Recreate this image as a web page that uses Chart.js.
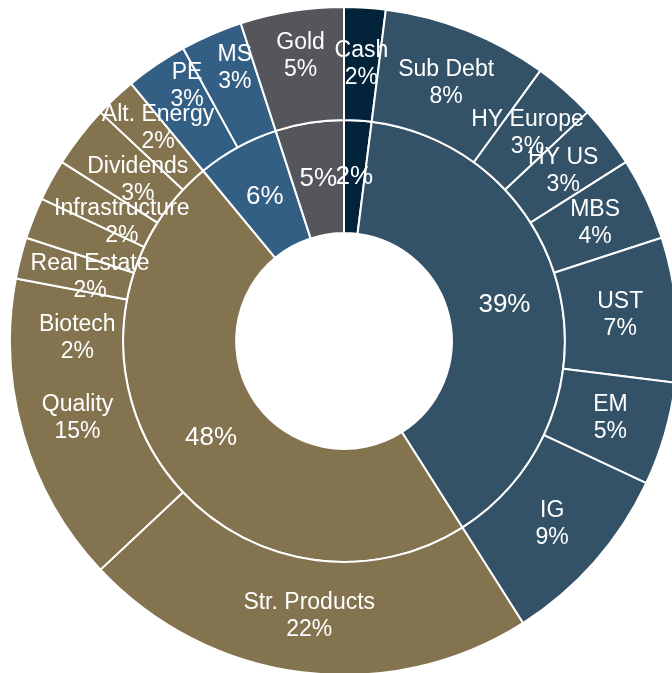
<!DOCTYPE html>
<html><head><meta charset="utf-8">
<script src="https://cdn.jsdelivr.net/npm/chart.js@4.4.0/dist/chart.umd.min.js"></script>
<style>
html,body{margin:0;padding:0;background:#fff;overflow:hidden;width:672px;height:673px;}
#wrap{position:absolute;left:9px;top:6px;width:670px;height:670px;}
</style></head><body>
<div id="wrap"><canvas id="c"></canvas></div>
<script>
// Inner ring (asset classes)
const groupLabels = ['Cash','Fixed Income','Equities','Alternatives','Gold'];
const groupValues = [2, 39, 48, 6, 5];
const groupColors = ['#02233A','#335268','#83744F','#345F84','#54565C'];

// Outer ring (sub-allocations)
const subLabels = ['Cash','Sub Debt','HY Europe','HY US','MBS','UST','EM','IG',
  'Str. Products','Quality','Biotech','Real Estate','Infrastructure','Dividends','Alt. Energy',
  'PE','MS','Gold'];
const subValues = [2, 8, 3, 3, 4, 7, 5, 9, 22, 15, 2, 2, 2, 3, 2, 3, 3, 5];
const subGroup  = [0, 1, 1, 1, 1, 1, 1, 1, 2, 2, 2, 2, 2, 2, 2, 3, 3, 4];

const FONT = '"Liberation Sans", Arial, Helvetica, sans-serif';

// label placement nudges (text only, pixels) for crowded outer labels
const labelNudge = {
  'Gold': [0, -11], 'MS': [1, -18], 'PE': [-1, -25], 'Alt. Energy': [4, -11],
  'Dividends': [13, 9], 'Infrastructure': [21, 15], 'Real Estate': [4, 38], 'Biotech': [2, 66]
};

const arcLabels = {
  id: 'arcLabels',
  afterDatasetsDraw(chart) {
    const ctx = chart.ctx;
    ctx.save();
    ctx.fillStyle = '#ffffff';
    ctx.textAlign = 'center';
    ctx.textBaseline = 'middle';
    chart.data.datasets.forEach((ds, di) => {
      const meta = chart.getDatasetMeta(di);
      meta.data.forEach((arc, i) => {
        const p = arc.tooltipPosition();
        const pct = ds.data[i] + '%';
        if (ds.ringLabels) {
          const name = ds.ringLabels[i];
          const n = labelNudge[name] || [0, 0];
          const x = p.x + n[0], y = p.y + n[1];
          ctx.font = '23px ' + FONT;
          ctx.fillText(name, x, y - 13.5);
          ctx.fillText(pct, x, y + 13.5);
        } else {
          ctx.font = '26px ' + FONT;
          ctx.fillText(pct, p.x, p.y);
        }
      });
    });
    ctx.restore();
  }
};

new Chart(document.getElementById('c'), {
  type: 'doughnut',
  data: {
    labels: subLabels,
    datasets: [
      {
        data: subValues,
        ringLabels: subLabels,
        backgroundColor: subGroup.map(g => groupColors[g]),
        borderColor: '#ffffff',
        borderWidth: 2,
        hoverBorderWidth: 2
      },
      {
        data: groupValues,
        backgroundColor: groupColors,
        borderColor: '#ffffff',
        borderWidth: 2,
        hoverBorderWidth: 2
      }
    ]
  },
  options: {
    responsive: true,
    maintainAspectRatio: false,
    animation: false,
    events: [],
    cutout: '32.3%',
    layout: { padding: 0 },
    plugins: {
      legend: { display: false },
      tooltip: { enabled: false }
    }
  },
  plugins: [arcLabels]
});
</script>
</body></html>
